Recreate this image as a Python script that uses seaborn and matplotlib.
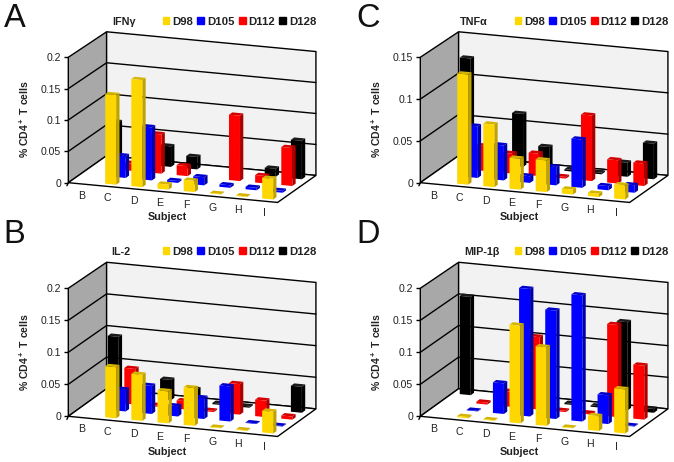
import seaborn as sns
import matplotlib.pyplot as plt
from matplotlib.patches import Patch, Polygon

subjects = ['B', 'C', 'D', 'E', 'F', 'G', 'H', 'I']
days = ['D98', 'D105', 'D112', 'D128']
n = None  # nothing drawn for that subject

ifng_d98 = [n, .143, .171, .008, .018, .001, .001, .033]
ifng_d105 = [n, .035, .085, .003, .013, .004, .004, .003]
ifng_d112 = [n, .012, .063, .016, n, .105, .012, .061]
ifng_d128 = [.064, n, .033, .02, n, n, .013, .062]

tnfa_d98 = [n, .132, .075, .037, .038, .006, .004, .017]
tnfa_d105 = [n, .062, .042, .008, .022, .058, .005, .009]
tnfa_d112 = [n, .03, .024, .027, .002, .079, .028, .027]
tnfa_d128 = [.125, n, .064, .027, .002, .002, .017, .043]

il2_d98 = [n, .08, .072, .05, .059, .001, .001, .034]
il2_d105 = [n, .034, .044, .016, .033, .055, .001, .001]
il2_d112 = [n, .056, .002, .013, .002, .048, .026, .005]
il2_d128 = [.092, n, .032, .021, .002, .002, n, .041]

mip_d98 = [n, .002, .001, .153, .123, .001, .023, .069]
mip_d105 = [n, .001, .048, .2, .17, .198, .045, .001]
mip_d112 = [n, .003, .024, .114, .002, .002, .145, .085]
mip_d128 = [.155, n, n, n, .002, .002, .139, .006]

front_colors = sns.color_palette(['#FFD700', '#0000FF', '#FF0000', '#000000'])
side_colors = ['#BFA200', '#0000A8', '#AA0000', '#000000']
top_colors = ['#D4B400', '#0000CC', '#D40000', '#1A1A1A']

sns.set_theme(style='white')
plt.rcParams['font.family'] = ['Liberation Sans', 'DejaVu Sans']
plt.rcParams['mathtext.fontset'] = 'custom'
plt.rcParams['mathtext.bf'] = 'Liberation Sans:bold'

W, H = 674, 462
fig = plt.figure(figsize=(W / 100, H / 100), dpi=100)

# oblique look of the excel 3d chart, measured as fractions of the front plane
DX = 115 / 78.5     # depth shift, in subjects
DY = 81 / 376       # depth shift, in axis heights
SLOPE = 7.4 / 376   # front edge drop per subject, in axis heights
SHRINK = 0.012      # back wall is slightly shorter
BAR_W = 0.42
BAR_D = 0.087


def panel(letter, letter_xy, title, title_x, x0, y0, top_y, ymax, yticks, ylabels, series):
    ax = fig.add_axes([x0 / W, 1 - y0 / H, 209.3 / W, (y0 - top_y) / H])
    ax.set_xlim(0, 8)
    ax.set_ylim(0, ymax)

    def proj(x, d, v):
        return (x + d * DX, v * (1 - SHRINK * d) + ymax * (-SLOPE * x + DY * d))

    def poly(pts, color, z, edge='none', lw=0):
        ax.add_patch(Polygon([proj(*p) for p in pts], closed=True, facecolor=color, edgecolor=edge,
                             linewidth=lw, zorder=z, clip_on=False, joinstyle='miter'))

    # walls and floor
    poly([(0, 0, 0), (0, 1, 0), (0, 1, ymax), (0, 0, ymax)], '#A8A8A8', 1, 'black', 1)
    poly([(0, 1, 0), (8, 1, 0), (8, 1, ymax), (0, 1, ymax)], '#F2F2F2', 1, 'black', 1)
    poly([(0, 0, 0), (8, 0, 0), (8, 1, 0), (0, 1, 0)], 'white', 1, 'black', 1)
    for t in yticks[1:-1]:
        a, b, c = proj(0, 0, t), proj(0, 1, t), proj(8, 1, t)
        ax.plot([a[0], b[0], c[0]], [a[1], b[1], c[1]], color='black', lw=1, zorder=2, clip_on=False)

    # back row first so the front rows cover it
    z = 3
    for j in [3, 2, 1, 0]:
        d = (j + 0.5) / 4
        for i, v in enumerate(series[j]):
            if v is None:
                continue
            xa, xb = i + 0.5 - BAR_W / 2, i + 0.5 + BAR_W / 2
            da, db = d - BAR_D / 2, d + BAR_D / 2
            poly([(xa, da, v), (xb, da, v), (xb, db, v), (xa, db, v)], top_colors[j], z)
            poly([(xb, da, 0), (xb, db, 0), (xb, db, v), (xb, da, v)], side_colors[j], z)
            poly([(xa, da, 0), (xb, da, 0), (xb, da, v), (xa, da, v)], front_colors[j], z)
            z += 1

    # subject ticks and labels follow the sloped front edge
    for i in range(9):
        a = proj(i, 0, 0)
        ax.annotate('', a, xytext=(-1, -2.2), textcoords='offset points',
                    arrowprops=dict(arrowstyle='-', color='black', lw=1, shrinkA=0, shrinkB=0), zorder=2)
    for i, s in enumerate(subjects):
        ax.annotate(s, proj(i + 0.5, 0, 0), xytext=(0, -8.4), textcoords='offset points',
                    ha='center', va='center', fontsize=7.6, color='#222222', annotation_clip=False)

    ax.set_xticks([])
    ax.set_yticks(yticks, ylabels, fontsize=7.6, color='#222222')
    ax.tick_params(axis='y', left=True, length=3, width=1, color='black', pad=2)
    sns.despine(ax=ax, left=True, bottom=True)
    ax.patch.set_alpha(0)
    ax.set_xlabel('Subject', fontsize=7.8, fontweight='bold', color='#222222')
    ax.xaxis.set_label_coords(3.8 / 8, -104 / 376)
    ax.xaxis.label.set_va('center')
    ax.set_ylabel(r'% CD4$\mathbf{^+}$ T cells', fontsize=7.6, fontweight='bold', color='#222222')
    ax.yaxis.set_label_coords(-0.178, 0.505)

    handles = [Patch(color=c, label=lab) for c, lab in zip(front_colors, days)]
    leg = ax.legend(handles=handles, ncol=4, frameon=False, loc='center right',
                    bbox_to_anchor=(1.185, 1.285), borderpad=0, borderaxespad=0,
                    handlelength=0.6, handleheight=0.6, handletextpad=0.24, columnspacing=0.38,
                    prop={'size': 8.2, 'weight': 'bold'})
    for txt in leg.get_texts():
        txt.set_color('#222222')
    ax.text(title_x, 1.285, title, transform=ax.transAxes, fontsize=7.8, fontweight='bold',
            color='#222222', va='center', ha='left')
    fig.text(letter_xy[0] / W, 1 - letter_xy[1] / H, letter, fontsize=23.5, color='#111111',
             ha='left', va='baseline')


panel('A', (4, 27), 'IFNγ', 0.212, 68.3, 182.7, 57.3, 0.2,
      [0, .05, .1, .15, .2], ['0', '0.05', '0.1', '0.15', '0.2'],
      [ifng_d98, ifng_d105, ifng_d112, ifng_d128])
panel('C', (356, 27), 'TNFα', 0.191, 420.3, 182.7, 57.3, 0.15,
      [0, .05, .1, .15], ['0', '0.05', '0.1', '0.15'],
      [tnfa_d98, tnfa_d105, tnfa_d112, tnfa_d128])
panel('B', (3, 243), 'IL-2', 0.204, 68.3, 416.3, 288.3, 0.2,
      [0, .05, .1, .15, .2], ['0', '0.05', '0.1', '0.15', '0.2'],
      [il2_d98, il2_d105, il2_d112, il2_d128])
panel('D', (356, 243), 'MIP-1β', 0.21, 420.3, 416.3, 288.3, 0.2,
      [0, .05, .1, .15, .2], ['0', '0.05', '0.1', '0.15', '0.2'],
      [mip_d98, mip_d105, mip_d112, mip_d128])

fig.savefig('out.png', dpi=100, facecolor='white')
